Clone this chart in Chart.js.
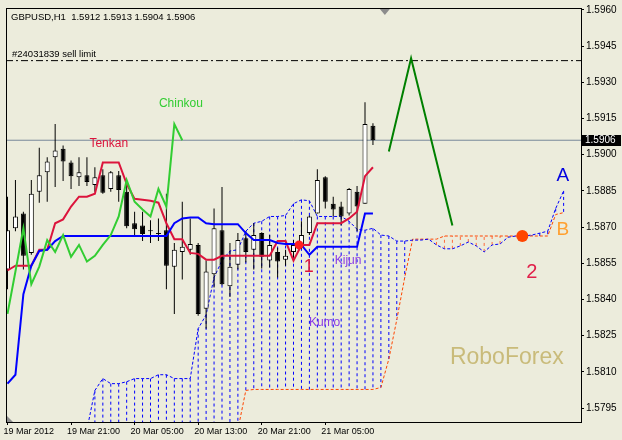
<!DOCTYPE html>
<html>
<head>
<meta charset="utf-8">
<script src="https://cdn.jsdelivr.net/npm/chart.js@4.4.1/dist/chart.umd.min.js"></script>
<style>
  html, body { margin: 0; padding: 0; background: #ececdc; }
  #wrap { position: relative; width: 622px; height: 440px; }
</style>
</head>
<body>
<div id="wrap"><canvas id="chart" width="622" height="440"></canvas></div>
<script>
const symbolTitle = "GBPUSD,H1  1.5912 1.5913 1.5904 1.5906";
const orderLabel = "#24031839 sell limit";

// H1 bars, index 0 = 19 Mar 13:00
const opens = [1.58524, 1.58695, 1.58756, 1.58593, 1.58846, 1.58927, 1.58989, 1.59025, 1.58968, 1.58907,
  1.58915, 1.58874, 1.58915, 1.58858, 1.58915, 1.58846, 1.58716, 1.58707, 1.58687, 1.58675,
  1.58687, 1.58536, 1.58597, 1.58606, 1.58626, 1.58361, 1.58504, 1.58687, 1.58455, 1.58544,
  1.58654, 1.58606, 1.58675, 1.58561, 1.58597, 1.58565, 1.58597, 1.58614, 1.58675, 1.58756,
  1.58907, 1.58797, 1.58785, 1.58756, 1.58846, 1.58797, 1.5912];
const highs = [1.58826, 1.58895, 1.58764, 1.58895, 1.59029, 1.58989, 1.59127, 1.59038, 1.58976, 1.58989,
  1.58989, 1.58948, 1.5894, 1.58932, 1.58932, 1.58891, 1.58764, 1.58764, 1.58728, 1.58736,
  1.58838, 1.58634, 1.58805, 1.58736, 1.58634, 1.58561, 1.58777, 1.58866, 1.58634, 1.58675,
  1.58683, 1.58716, 1.58679, 1.58667, 1.58614, 1.58606, 1.58646, 1.58724, 1.58748, 1.5894,
  1.58911, 1.58826, 1.58805, 1.58862, 1.5887, 1.59217, 1.5913];
const lows = [1.58442, 1.58683, 1.58524, 1.58585, 1.58801, 1.58805, 1.58866, 1.58891, 1.58858, 1.5887,
  1.5887, 1.58846, 1.58838, 1.58846, 1.58805, 1.58695, 1.58663, 1.58642, 1.58634, 1.58642,
  1.58442, 1.5834, 1.58483, 1.58585, 1.58332, 1.58279, 1.5845, 1.58459, 1.5841, 1.58524,
  1.58553, 1.58524, 1.58528, 1.58532, 1.58491, 1.5854, 1.58573, 1.5861, 1.58667, 1.58756,
  1.58777, 1.58744, 1.58707, 1.58748, 1.58683, 1.58797, 1.5904];
const closes = [1.58687, 1.58744, 1.58581, 1.58838, 1.58915, 1.58972, 1.59017, 1.58972, 1.58911, 1.58927,
  1.58887, 1.58907, 1.58842, 1.58927, 1.58854, 1.58703, 1.58691, 1.58671, 1.58683, 1.58671,
  1.5854, 1.58606, 1.58618, 1.5863, 1.5834, 1.58516, 1.58695, 1.58463, 1.58536, 1.58646,
  1.58597, 1.58667, 1.58577, 1.58626, 1.58557, 1.58581, 1.58626, 1.58667, 1.58744, 1.58895,
  1.58805, 1.58773, 1.58744, 1.58858, 1.58785, 1.59127, 1.5906];

const tenkan = [1.5852, 1.5854, 1.5854, 1.5854, 1.58606, 1.58606, 1.58716, 1.58732, 1.58785, 1.58826,
  1.58826, 1.58838, 1.58968, 1.58968, 1.58968, 1.58879, 1.58817, 1.58813, 1.58809, 1.58801,
  1.58716, 1.5865, 1.5865, 1.58593, 1.58589, 1.58565, 1.58565, 1.58581, 1.58581, 1.58581,
  1.58581, 1.58581, 1.58581, 1.58581, 1.58642, 1.58642, 1.58561, 1.58626, 1.58626, 1.58716,
  1.58716, 1.58716, 1.58716, 1.58736, 1.58764, 1.58911, 1.58948];
const kijun = [1.58051, 1.58088, 1.58422, 1.5854, 1.58601, 1.58606, 1.58642, 1.58663, 1.58663, 1.58663,
  1.58663, 1.58663, 1.58663, 1.58663, 1.58663, 1.58663, 1.58663, 1.58663, 1.58663, 1.58663,
  1.58663, 1.58716, 1.58736, 1.5874, 1.5874, 1.58716, 1.58712, 1.58712, 1.58712, 1.58712,
  1.58675, 1.58646, 1.58646, 1.58646, 1.58634, 1.5863, 1.5863, 1.58626, 1.58585, 1.58618,
  1.58618, 1.58618, 1.58618, 1.58618, 1.58618, 1.58756, 1.58756];
const chinkouShift = 24;

// cloud, drawn ahead of price
const senkouAStart = 10;
const senkouA = [1.5786, 1.58023, 1.58072, 1.58051, 1.58051, 1.58059, 1.58072, 1.58072, 1.58072, 1.58088,
  1.58088, 1.58072, 1.58072, 1.58072, 1.58279, 1.58336, 1.58491, 1.58561, 1.58601, 1.58606,
  1.58683, 1.58716, 1.58724, 1.58744, 1.58744, 1.58748, 1.58797, 1.58813, 1.58809, 1.58744,
  1.58744, 1.58744, 1.58744, 1.58724, 1.58691, 1.58687, 1.58695, 1.58667, 1.58663, 1.58642,
  1.58642, 1.58646, 1.58646, 1.5865, 1.58626, 1.5861, 1.5861, 1.58622, 1.58638, 1.58622,
  1.58597, 1.58626, 1.5863, 1.58658, 1.58663, 1.58663, 1.58667, 1.58675, 1.58683, 1.58777,
  1.5885];
const senkouBStart = 29;
const senkouB = [1.5786, 1.58023, 1.58027, 1.58027, 1.58027, 1.58027, 1.58027, 1.58027, 1.58027, 1.58027,
  1.58027, 1.58027, 1.58027, 1.58027, 1.58027, 1.58027, 1.58027, 1.58027, 1.58035, 1.58153,
  1.58316, 1.58491, 1.5865, 1.5865, 1.5865, 1.5865, 1.58663, 1.58663, 1.58663, 1.58663,
  1.58663, 1.58663, 1.58663, 1.58663, 1.58663, 1.58663, 1.58663, 1.58663, 1.58663, 1.58663,
  1.58752, 1.5876];

const forecastX = [48, 50.8, 56];
const forecastY = [1.59013, 1.5940, 1.58707];

const lastPrice = 1.5906;
const sellLimit = 1.5939;

const signalX = [36.7, 64.8];
const signalY = [1.58626, 1.58663];

const xTickIdx = [0, 8, 16, 24, 32, 40];
const xTickLabels = ['19 Mar 2012', '19 Mar 21:00', '20 Mar 05:00', '20 Mar 13:00', '20 Mar 21:00', '21 Mar 05:00'];
const yTicks = [1.5795, 1.5810, 1.5825, 1.5840, 1.5855, 1.5870, 1.5885, 1.5900, 1.5915, 1.5930, 1.5945, 1.5960];

const X_MIN = -0.1875, X_MAX = 72.1875;
const Y_MAX = 1.5960815, Y_MIN = 1.5789205;
const BG = '#ececdc';
const FONT = '"Liberation Sans", Arial, sans-serif';

const notes = [
  { text: 'Chinkou', x: 19.06, y: 1.59213, color: '#32cd32', size: 12 },
  { text: 'Tenkan', x: 10.31, y: 1.59046, color: '#dc143c', size: 12 },
  { text: 'Kijun', x: 41.19, y: 1.58561, color: '#8a3ce6', size: 12 },
  { text: 'Kumo', x: 37.94, y: 1.58304, color: '#8a3ce6', size: 12 },
  { text: '1', x: 37.3, y: 1.58536, color: '#dc143c', size: 18 },
  { text: '2', x: 65.3, y: 1.58512, color: '#e0204a', size: 20 },
  { text: 'A', x: 69.1, y: 1.58911, color: '#0000e0', size: 19 },
  { text: 'B', x: 69.1, y: 1.58687, color: '#ffa030', size: 19 },
  { text: 'RoboForex', x: 55.69, y: 1.58157, color: '#c9bb7a', size: 23 }
];

const pts = (arr, start = 0) => arr.map((v, k) => ({ x: start + k, y: v }));

// vertical hatch strokes between the two spans
const hatch = [];
for (let k = 0; k < senkouA.length; k++) {
  const i = senkouAStart + k;
  const b = i >= senkouBStart ? senkouB[i - senkouBStart] : Y_MIN - 0.001;
  hatch.push({ x: i, y: senkouA[k] }, { x: i, y: b }, { x: i, y: null });
}

const chinkou = closes.slice(chinkouShift).map((c, k) => ({ x: k, y: c }));

const decorations = {
  id: 'decorations',
  beforeDraw(chart) {
    const { ctx, width, height } = chart;
    ctx.save();
    ctx.fillStyle = BG;
    ctx.fillRect(0, 0, width, height);
    ctx.restore();
  },
  afterDatasetsDraw(chart) {
    const { ctx, chartArea: a, scales: { x, y } } = chart;
    ctx.save();
    ctx.textBaseline = 'middle';
    ctx.textAlign = 'left';
    notes.forEach(n => {
      ctx.font = `${n.size}px ${FONT}`;
      ctx.fillStyle = n.color;
      ctx.fillText(n.text, x.getPixelForValue(n.x), y.getPixelForValue(n.y));
    });
    ctx.fillStyle = '#000';
    ctx.font = `9.5px ${FONT}`;
    ctx.fillText(symbolTitle, a.left + 5, a.top + 9);
    ctx.fillText(orderLabel, a.left + 6, y.getPixelForValue(sellLimit) - 6);
    // chart shift marker
    const sx = x.getPixelForValue(47.5);
    ctx.fillStyle = '#8c8c8c';
    ctx.beginPath();
    ctx.moveTo(sx - 5, a.top + 1);
    ctx.lineTo(sx + 5, a.top + 1);
    ctx.lineTo(sx, a.top + 7);
    ctx.closePath();
    ctx.fill();
    ctx.beginPath();
    ctx.moveTo(a.left + 1, a.bottom - 6);
    ctx.lineTo(a.left + 1, a.bottom);
    ctx.lineTo(a.left + 7, a.bottom);
    ctx.closePath();
    ctx.fill();
    ctx.restore();
  },
  afterDraw(chart) {
    const { ctx, chartArea: a, scales: { y } } = chart;
    ctx.save();
    ctx.strokeStyle = '#000';
    ctx.lineWidth = 1;
    ctx.strokeRect(a.left + 0.5, a.top + 0.5, a.right - a.left, a.bottom - a.top);
    const py = Math.round(y.getPixelForValue(lastPrice));
    ctx.fillStyle = '#000';
    ctx.fillRect(a.right + 1, py - 5, 39, 11);
    ctx.fillStyle = '#fff';
    ctx.font = `10px ${FONT}`;
    ctx.textBaseline = 'middle';
    ctx.fillText(lastPrice.toFixed(4), a.right + 4, py + 0.5);
    ctx.restore();
  }
};

const lineDs = (data, color, width, order, extra = {}) => Object.assign({
  type: 'line', data, borderColor: color, borderWidth: width, pointRadius: 0,
  tension: 0, fill: false, order
}, extra);

new Chart(document.getElementById('chart'), {
  type: 'bar',
  data: {
    datasets: [
      lineDs(hatch, '#0000ff', 1, 12, {
        spanGaps: false, borderDash: [3, 3],
        segment: { borderColor: c => c.p0.parsed.y >= c.p1.parsed.y ? '#0000ff' : '#ff6a3a' }
      }),
      lineDs(pts(senkouA, senkouAStart), '#0000ff', 1, 11, { borderDash: [3, 2] }),
      lineDs(pts(senkouB, senkouBStart), '#ff4500', 1, 11, { borderDash: [3, 2] }),
      lineDs([{ x: X_MIN, y: lastPrice }, { x: X_MAX, y: lastPrice }], '#778899', 1, 10),
      lineDs([{ x: X_MIN, y: sellLimit }, { x: X_MAX, y: sellLimit }], '#000000', 1, 10, { borderDash: [7, 3, 2, 3] }),
      {
        type: 'bar', order: 8, grouped: false, barThickness: 1, inflateAmount: 0,
        data: lows.map((l, i) => ({ x: i, y: [l, highs[i]] })),
        backgroundColor: '#000', borderWidth: 0
      },
      {
        type: 'bar', order: 7, grouped: false, barThickness: 5, inflateAmount: 0,
        data: opens.map((o, i) => ({ x: i, y: [o, closes[i]] })),
        backgroundColor: opens.map((o, i) => closes[i] >= o ? '#ffffff' : '#000000'),
        borderColor: '#000', borderWidth: 1, borderSkipped: false
      },
      lineDs(pts(tenkan), '#dc143c', 2, 5),
      lineDs(pts(kijun), '#0000ff', 2, 4),
      lineDs(chinkou, '#32cd32', 2, 3),
      lineDs(forecastX.map((v, k) => ({ x: v, y: forecastY[k] })), '#008000', 2, 2),
      {
        type: 'scatter', order: 1,
        data: signalX.map((v, k) => ({ x: v, y: signalY[k] })),
        pointRadius: [4.5, 6], pointBackgroundColor: ['#ff2020', '#ff4500'],
        pointBorderWidth: 0, showLine: false
      }
    ]
  },
  options: {
    responsive: false,
    animation: false,
    events: [],
    layout: { padding: { left: 2, top: 1, right: 0, bottom: 0 } },
    plugins: { legend: { display: false }, tooltip: { enabled: false } },
    scales: {
      x: {
        type: 'linear', min: X_MIN, max: X_MAX, offset: false,
        grid: { display: true, drawOnChartArea: false, drawTicks: true, tickLength: 3, color: '#000', offset: false },
        border: { display: false },
        afterBuildTicks: ax => { ax.ticks = xTickIdx.map(v => ({ value: v })); },
        afterFit: ax => { ax.height = 18; },
        ticks: {
          autoSkip: false, maxRotation: 0, align: 'start', padding: 1, labelOffset: -4, color: '#000',
          font: { family: FONT, size: 9 },
          callback: v => { const k = xTickIdx.indexOf(v); return k >= 0 ? xTickLabels[k] : ''; }
        }
      },
      y: {
        type: 'linear', position: 'right', min: Y_MIN, max: Y_MAX,
        grid: { display: true, drawOnChartArea: false, drawTicks: true, tickLength: 3, color: '#000' },
        border: { display: false },
        afterBuildTicks: ax => { ax.ticks = yTicks.map(v => ({ value: v })); },
        afterFit: ax => { ax.width = 41; },
        ticks: {
          padding: 2, color: '#000', font: { family: FONT, size: 10 },
          callback: v => v.toFixed(4)
        }
      }
    }
  },
  plugins: [decorations]
});
</script>
</body>
</html>
